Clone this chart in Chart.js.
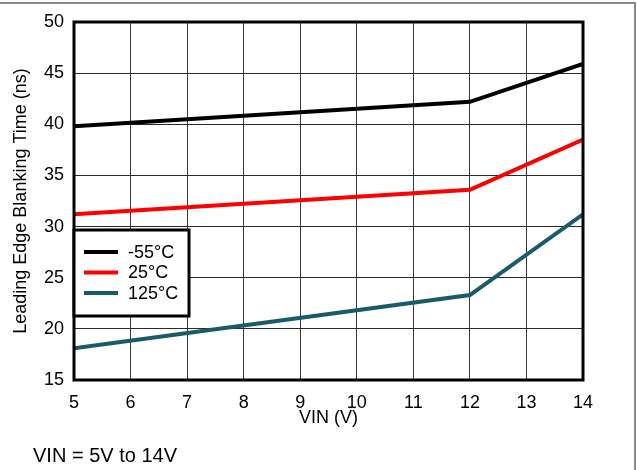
<!DOCTYPE html>
<html>
<head>
<meta charset="utf-8">
<script src="https://cdn.jsdelivr.net/npm/chart.js@4"></script>
<style>
  html, body { margin: 0; padding: 0; background: #fff; }
  #wrap { width: 637px; height: 470px; position: relative; }
</style>
</head>
<body>
<div id="wrap"><canvas id="blanking" width="637" height="470"></canvas></div>
<script>
// values
const vin = [5, 12, 14];
const tempLabels = ['-55°C', '25°C', '125°C'];
const minus55 = [39.8, 42.2, 45.9];
const plus25 = [31.2, 33.6, 38.5];
const plus125 = [18.1, 23.3, 31.2];
const colors = ['#000000', '#ff0000', '#1a5b6b'];
const noteText = 'VIN = 5V to 14V';

const FONT = '"Liberation Sans", Arial, sans-serif';

function pts(ys) {
    return vin.map((x, i) => ({x: x, y: ys[i]}));
}

// frame, legend box and note drawn on top
const extras = {
    id: 'extras',
    afterDatasetsDraw(chart) {
        const ctx = chart.ctx;
        const a = chart.chartArea;
        ctx.save();
        // plot frame
        ctx.strokeStyle = '#000';
        ctx.lineWidth = 3;
        ctx.strokeRect(a.left, a.top, a.right - a.left, a.bottom - a.top);

        // legend
        const lx = a.left, ly = 230, lw = 115, lh = 86;
        ctx.fillStyle = '#fff';
        ctx.fillRect(lx, ly, lw, lh);
        ctx.lineWidth = 3;
        ctx.strokeRect(lx, ly, lw, lh);
        ctx.font = '18px ' + FONT;
        ctx.textBaseline = 'middle';
        chart.data.datasets.forEach((ds, i) => {
            const y = 252 + i * 20.5;
            ctx.strokeStyle = ds.borderColor;
            ctx.lineWidth = 4;
            ctx.beginPath();
            ctx.moveTo(lx + 10, y);
            ctx.lineTo(lx + 44, y);
            ctx.stroke();
            ctx.fillStyle = '#000';
            ctx.fillText(ds.label, lx + 54, y + 1);
        });
        ctx.restore();
    },
    afterDraw(chart) {
        const ctx = chart.ctx;
        ctx.save();
        ctx.fillStyle = '#000';
        ctx.font = '20px ' + FONT;
        ctx.textBaseline = 'alphabetic';
        ctx.fillText(noteText, 33, 462);
        // outer gray frame (top and right edges)
        ctx.strokeStyle = '#8a8a8a';
        ctx.lineWidth = 2;
        ctx.beginPath();
        ctx.moveTo(0, 3);
        ctx.lineTo(635, 3);
        ctx.lineTo(635, 470);
        ctx.stroke();
        ctx.restore();
    }
};

new Chart(document.getElementById('blanking'), {
    type: 'line',
    data: {
        datasets: [
            {label: tempLabels[0], data: pts(minus55), borderColor: colors[0], backgroundColor: colors[0]},
            {label: tempLabels[1], data: pts(plus25), borderColor: colors[1], backgroundColor: colors[1]},
            {label: tempLabels[2], data: pts(plus125), borderColor: colors[2], backgroundColor: colors[2]}
        ]
    },
    options: {
        responsive: false,
        animation: false,
        layout: {padding: {top: 22, right: 54, left: 0, bottom: 40}},
        elements: {
            line: {borderWidth: 4, tension: 0},
            point: {radius: 0}
        },
        plugins: {
            legend: {display: false},
            tooltip: {enabled: false}
        },
        scales: {
            x: {
                type: 'linear',
                min: 5,
                max: 14,
                afterFit(scale) { scale.height = 50; },
                ticks: {stepSize: 1, padding: 12, color: '#000', font: {family: FONT, size: 18}},
                grid: {color: '#3a3a3a', lineWidth: 1, drawTicks: false},
                border: {display: false},
                title: {display: true, text: 'VIN (V)', color: '#000', font: {family: FONT, size: 18}, padding: {top: 0, bottom: 1}}
            },
            y: {
                min: 15,
                max: 50,
                afterFit(scale) { scale.width = 74; },
                ticks: {stepSize: 5, padding: 10, color: '#000', font: {family: FONT, size: 18}},
                grid: {color: '#2a2a2a', lineWidth: 1, drawTicks: false},
                border: {display: false},
                title: {display: true, text: 'Leading Edge Blanking Time (ns)', color: '#000', font: {family: FONT, size: 18}, padding: {top: 10, bottom: 0}}
            }
        }
    },
    plugins: [extras]
});
</script>
</body>
</html>
